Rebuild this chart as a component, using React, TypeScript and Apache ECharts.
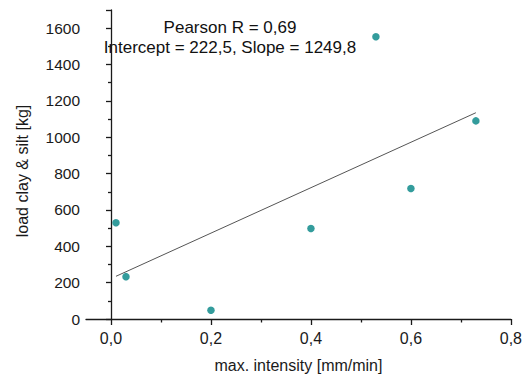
import React, { useEffect, useRef } from "react";
import * as echarts from "echarts";

const intensity = [0.01, 0.03, 0.2, 0.4, 0.53, 0.6, 0.73];
const load = [530, 233, 48, 498, 1553, 718, 1090];
const intercept = 222.5;
const slope = 1249.8;
const fitRange = [0.01, 0.73];
const xMajorTicks = [0, 0.2, 0.4, 0.6, 0.8];
const xMinorTicks = [0.1, 0.3, 0.5, 0.7];
const annotation = ["Pearson R = 0,69", "Intercept = 222,5, Slope = 1249,8"];
const xTitle = "max. intensity [mm/min]";
const yTitle = "load clay & silt [kg]";

const fmt = (v: number) => v.toFixed(1).replace(".", ",");

export default function App() {
  const ref = useRef<HTMLDivElement>(null);
  useEffect(() => {
    if (!ref.current) return;
    const chart = echarts.init(ref.current, null, { renderer: "svg" });
    const font = "'Liberation Sans', Arial, sans-serif";
    const ink = "#1a1a1a";
    const axisLine = { show: true, lineStyle: { color: ink, width: 1.3 } };
    const fitData = fitRange.map((x) => [x, intercept + slope * x]);
    chart.setOption({
      animation: false,
      textStyle: { fontFamily: font },
      grid: { left: 86, right: 14, top: 10, bottom: 59, containLabel: false },
      xAxis: [
        {
          type: "value",
          min: -0.05,
          max: 0.8,
          name: xTitle,
          nameLocation: "middle",
          nameGap: 38,
          nameTextStyle: { fontSize: 16, color: ink, fontFamily: font },
          axisLine,
          axisTick: { show: true, customValues: xMajorTicks, length: 6, lineStyle: { color: ink, width: 1.3 } },
          axisLabel: { customValues: xMajorTicks, formatter: (v: number) => fmt(v), fontSize: 16, color: ink, margin: 11, fontFamily: font },
          splitLine: { show: false },
        },
        {
          type: "value",
          min: -0.05,
          max: 0.8,
          position: "bottom",
          axisLine: { show: false },
          axisTick: { show: true, customValues: xMinorTicks, length: 3.5, lineStyle: { color: ink, width: 1.3 } },
          axisLabel: { show: false },
          splitLine: { show: false },
        },
      ],
      yAxis: {
        type: "value",
        min: 0,
        max: 1700,
        interval: 200,
        axisLine,
        axisTick: { show: true, length: 5, lineStyle: { color: ink, width: 1.3 } },
        minorTick: { show: true, splitNumber: 2, length: 3, lineStyle: { color: ink, width: 1.3 } },
        axisLabel: {
          fontSize: 15.5,
          color: ink,
          margin: 6,
          fontFamily: font,
          formatter: (v: number) => (v > 1600 ? "" : String(v)),
        },
        splitLine: { show: false },
      },
      graphic: [
        {
          type: "text",
          x: 22,
          y: 171,
          rotation: Math.PI / 2,
          style: { text: yTitle, fontSize: 16, fill: ink, fontFamily: font, align: "center", verticalAlign: "middle" },
        },
        {
          type: "text",
          x: 230,
          y: 27,
          style: { text: annotation[0], fontSize: 17, fill: "#111", fontFamily: font, align: "center", verticalAlign: "middle" },
        },
        {
          type: "text",
          x: 230,
          y: 47,
          style: { text: annotation[1], fontSize: 17, fill: "#111", fontFamily: font, align: "center", verticalAlign: "middle" },
        },
      ],
      series: [
        {
          type: "line",
          data: fitData,
          showSymbol: false,
          lineStyle: { color: "#555", width: 1 },
          z: 2,
        },
        {
          type: "scatter",
          data: intensity.map((x, i) => [x, load[i]]),
          symbolSize: 7.5,
          itemStyle: { color: "#008383" },
          z: 3,
        },
      ],
    });
    return () => chart.dispose();
  }, []);
  return <div ref={ref} style={{ width: 525, height: 378, position: "absolute", left: 0, top: 0 }} />;
}
